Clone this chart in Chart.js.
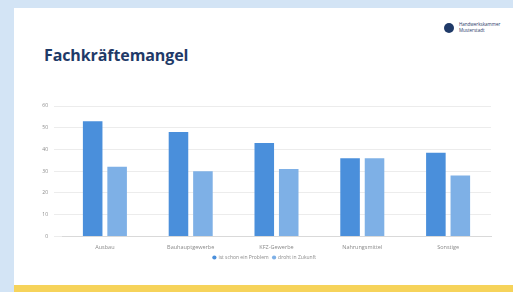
<!DOCTYPE html>
<html>
<head>
<meta charset="utf-8">
<script src="https://cdn.jsdelivr.net/npm/chart.js@4"></script>
<style>
  html, body { margin: 0; padding: 0; }
  body { width: 513px; height: 292px; background: #d3e4f5; position: relative; overflow: hidden; font-family: 'Open Sans', sans-serif; }
  .slide { position: absolute; left: 14px; top: 8px; width: 499px; height: 278px; background: #fff; }
  .strip { position: absolute; left: 14px; top: 285px; width: 499px; height: 7px; background: #f6d35a; }
  .title { position: absolute; left: 44px; top: 44px; font-size: 16px; font-weight: 700; color: #1f3a68; letter-spacing: -0.1px; }
  .logo { position: absolute; left: 444px; top: 23px; width: 10px; height: 10px; border-radius: 50%; background: #1f3a68; }
  .logo-text { position: absolute; left: 459px; top: 22px; font-size: 4.5px; line-height: 5.5px; color: #1f3a68; }
  canvas { position: absolute; left: 0; top: 0; }
</style>
</head>
<body>
<div class="slide"></div>
<div class="strip"></div>
<div class="title">Fachkräftemangel</div>
<div class="logo"></div>
<div class="logo-text">Handwerkskammer<br>Musterstadt</div>
<canvas id="chart" width="513" height="292"></canvas>
<script>
const categories = ['Ausbau', 'Bauhauptgewerbe', 'KFZ-Gewerbe', 'Nahrungsmittel', 'Sonstige'];
const seriesNames = ['ist schon ein Problem', 'droht in Zukunft'];
const schonProblem = [53, 48, 43, 36, 38.5];
const drohtZukunft = [32, 30, 31, 36, 28];
const yTicks = [0, 10, 20, 30, 40, 50, 60];

new Chart(document.getElementById('chart').getContext('2d'), {
  type: 'bar',
  data: {
    labels: categories,
    datasets: [
      { label: seriesNames[0], data: schonProblem, backgroundColor: '#4a8fdb' },
      { label: seriesNames[1], data: drohtZukunft, backgroundColor: '#7eb0e6' },
    ],
  },
  options: {
    responsive: false,
    animation: false,
    layout: { padding: { left: 38, right: 22, top: 106, bottom: 22 } },
    datasets: { bar: { categoryPercentage: 0.57, barPercentage: 0.8 } },
    plugins: {
      legend: {
        position: 'bottom',
        labels: { usePointStyle: true, pointStyle: 'circle', boxWidth: 3, boxHeight: 3, padding: 4, color: '#8a8a8a', font: { size: 5, family: 'Open Sans' } },
      },
      tooltip: { enabled: false },
    },
    scales: {
      x: {
        grid: { display: false },
        border: { color: '#d9d9d9' },
        ticks: { color: '#8a8a8a', font: { size: 5.5, family: 'Open Sans' }, padding: 0 },
      },
      y: {
        min: 0, max: 60,
        afterFit: s => { s.width = 24; },
        afterBuildTicks: s => { s.ticks = yTicks.map(v => ({ value: v })); },
        grid: { color: '#ececec' },
        border: { display: false },
        ticks: { color: '#8a8a8a', font: { size: 5, family: 'Open Sans' }, padding: 6 },
      },
    },
  },
});
</script>
</body>
</html>
